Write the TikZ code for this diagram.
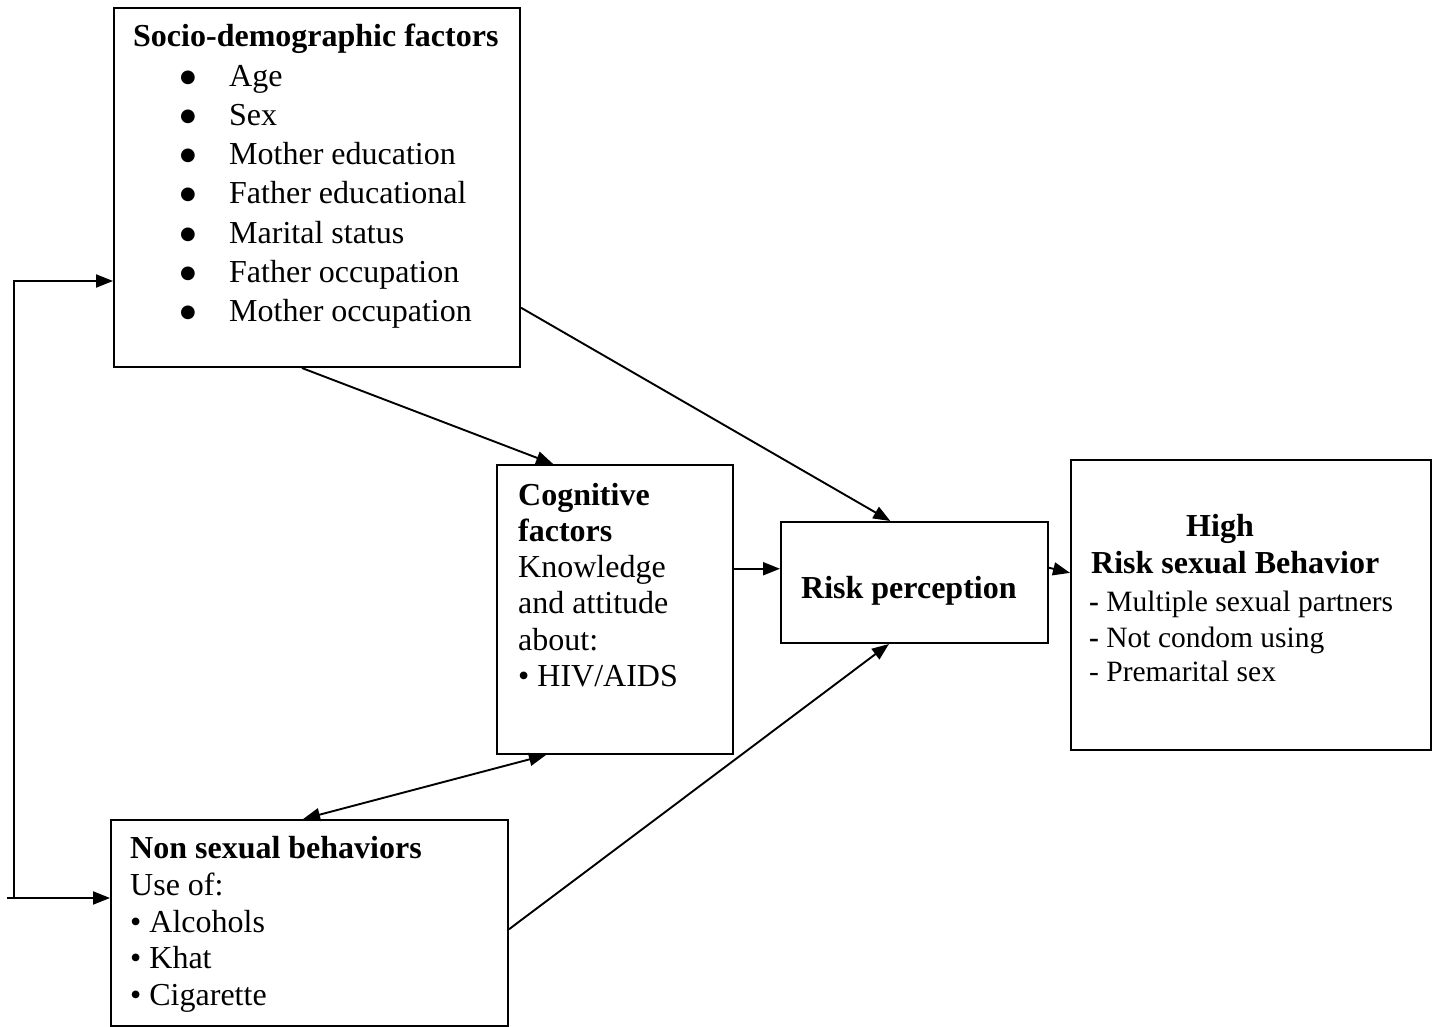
\documentclass[tikz,border=0pt]{standalone}
\usepackage{fontspec}
\setmainfont{Liberation Serif}
\newfontfamily\dvsans{DejaVu Sans}
\usetikzlibrary{arrows.meta,calc}
\begin{document}
\begin{tikzpicture}[x=1pt,y=-1pt,
 box/.style={draw,line width=2pt,rectangle,inner sep=0pt,anchor=north west},
 txt/.style={inner sep=0pt,anchor=base west,font=\fontsize{32}{38}\selectfont},
 btxt/.style={inner sep=0pt,anchor=base west,font=\fontsize{32}{38}\selectfont\bfseries},
 small/.style={inner sep=0pt,anchor=base west,font=\fontsize{29.5}{35}\selectfont},
 bigbullet/.style={inner sep=0pt,anchor=base,font=\dvsans\fontsize{18}{18}\selectfont},
 arr/.style={line width=1.9pt,-{Triangle[length=17pt,width=13pt]}},
 darr/.style={line width=1.9pt,{Triangle[length=17pt,width=13pt]}-{Triangle[length=17pt,width=13pt]}}]
\useasboundingbox (0,0) rectangle (1437,1027);

% boxes
\node[box,minimum width=406pt,minimum height=359pt] (soc) at (113,7) {};
\node[box,minimum width=236pt,minimum height=289pt] (cog) at (496,464) {};
\node[box,minimum width=267pt,minimum height=121pt] (risk) at (780,521) {};
\node[box,minimum width=360pt,minimum height=290pt] (high) at (1070,459) {};
\node[box,minimum width=397pt,minimum height=206pt] (ns) at (110,819) {};

% socio-demographic text
\node[btxt] (socT) at (133,47) {Socio-demographic factors};
\foreach \t [count=\i from 0] in {Age,Sex,Mother education,Father educational,Marital status,Father occupation,Mother occupation}{
  \node[txt] (socI\i) at (229,87+39*\i) {\t};
  \node[bigbullet] (socB\i) at (188,83+39*\i) {●};
}

% cognitive text
\node[btxt] (cog1) at (518,505) {Cognitive};
\node[btxt] (cog2) at (518,541) {factors};
\node[txt] (cog3) at (518,577) {Knowledge};
\node[txt] (cog4) at (518,613) {and attitude};
\node[txt] (cog5) at (518,650) {about:};
\node[txt] (cog6) at (518,686) {\textbullet\ HIV/AIDS};

% risk perception
\node[btxt] (riskT) at (801,598) {Risk perception};

% high risk
\node[btxt] (high1) at (1186,536) {High};
\node[btxt] (high2) at (1091,573) {Risk sexual Behavior};
\node[small] (high3) at (1089,611) {{\bfseries -} Multiple sexual partners};
\node[small] (high4) at (1089,647) {{\bfseries -} Not condom using};
\node[small] (high5) at (1089,681) {- Premarital sex};

% non sexual
\node[btxt] (ns1) at (130,858) {Non sexual behaviors};
\node[txt] (ns2) at (130,895) {Use of:};
\node[txt] (ns3) at (130,932) {\textbullet\ Alcohols};
\node[txt] (ns4) at (130,968) {\textbullet\ Khat};
\node[txt] (ns5) at (130,1005) {\textbullet\ Cigarette};

% connectors
\draw[arr] ($(soc.south west)!0.463!(soc.south east)$) -- ($(cog.north west)!0.24!(cog.north east)$);
\draw[arr] ($(soc.north east)!0.833!(soc.south east)$) -- ($(risk.north west)!0.41!(risk.north east)$);
\draw[arr] ($(ns.north east)!0.53!(ns.south east)$) -- ($(risk.south west)!0.405!(risk.south east)$);
\draw[darr] ($(cog.south west)!0.21!(cog.south east)$) -- ($(ns.north west)!0.484!(ns.north east)$);
\coordinate (c1) at ($(cog.north east)!0.36!(cog.south east)$);
\draw[arr] (c1) -- (c1 -| risk.west);
\draw[arr] ($(risk.north east)!0.38!(risk.south east)$) -- ($(high.north west)!0.39!(high.south west)$);

% left feedback loop
\coordinate (lb) at (7,898);
\coordinate (lt) at (14,281);
\draw[arr] (lb) -- (lb -| ns.west);
\draw[arr] (lb -| lt) -- (lt) -- (lt -| soc.west);
\end{tikzpicture}
\end{document}
